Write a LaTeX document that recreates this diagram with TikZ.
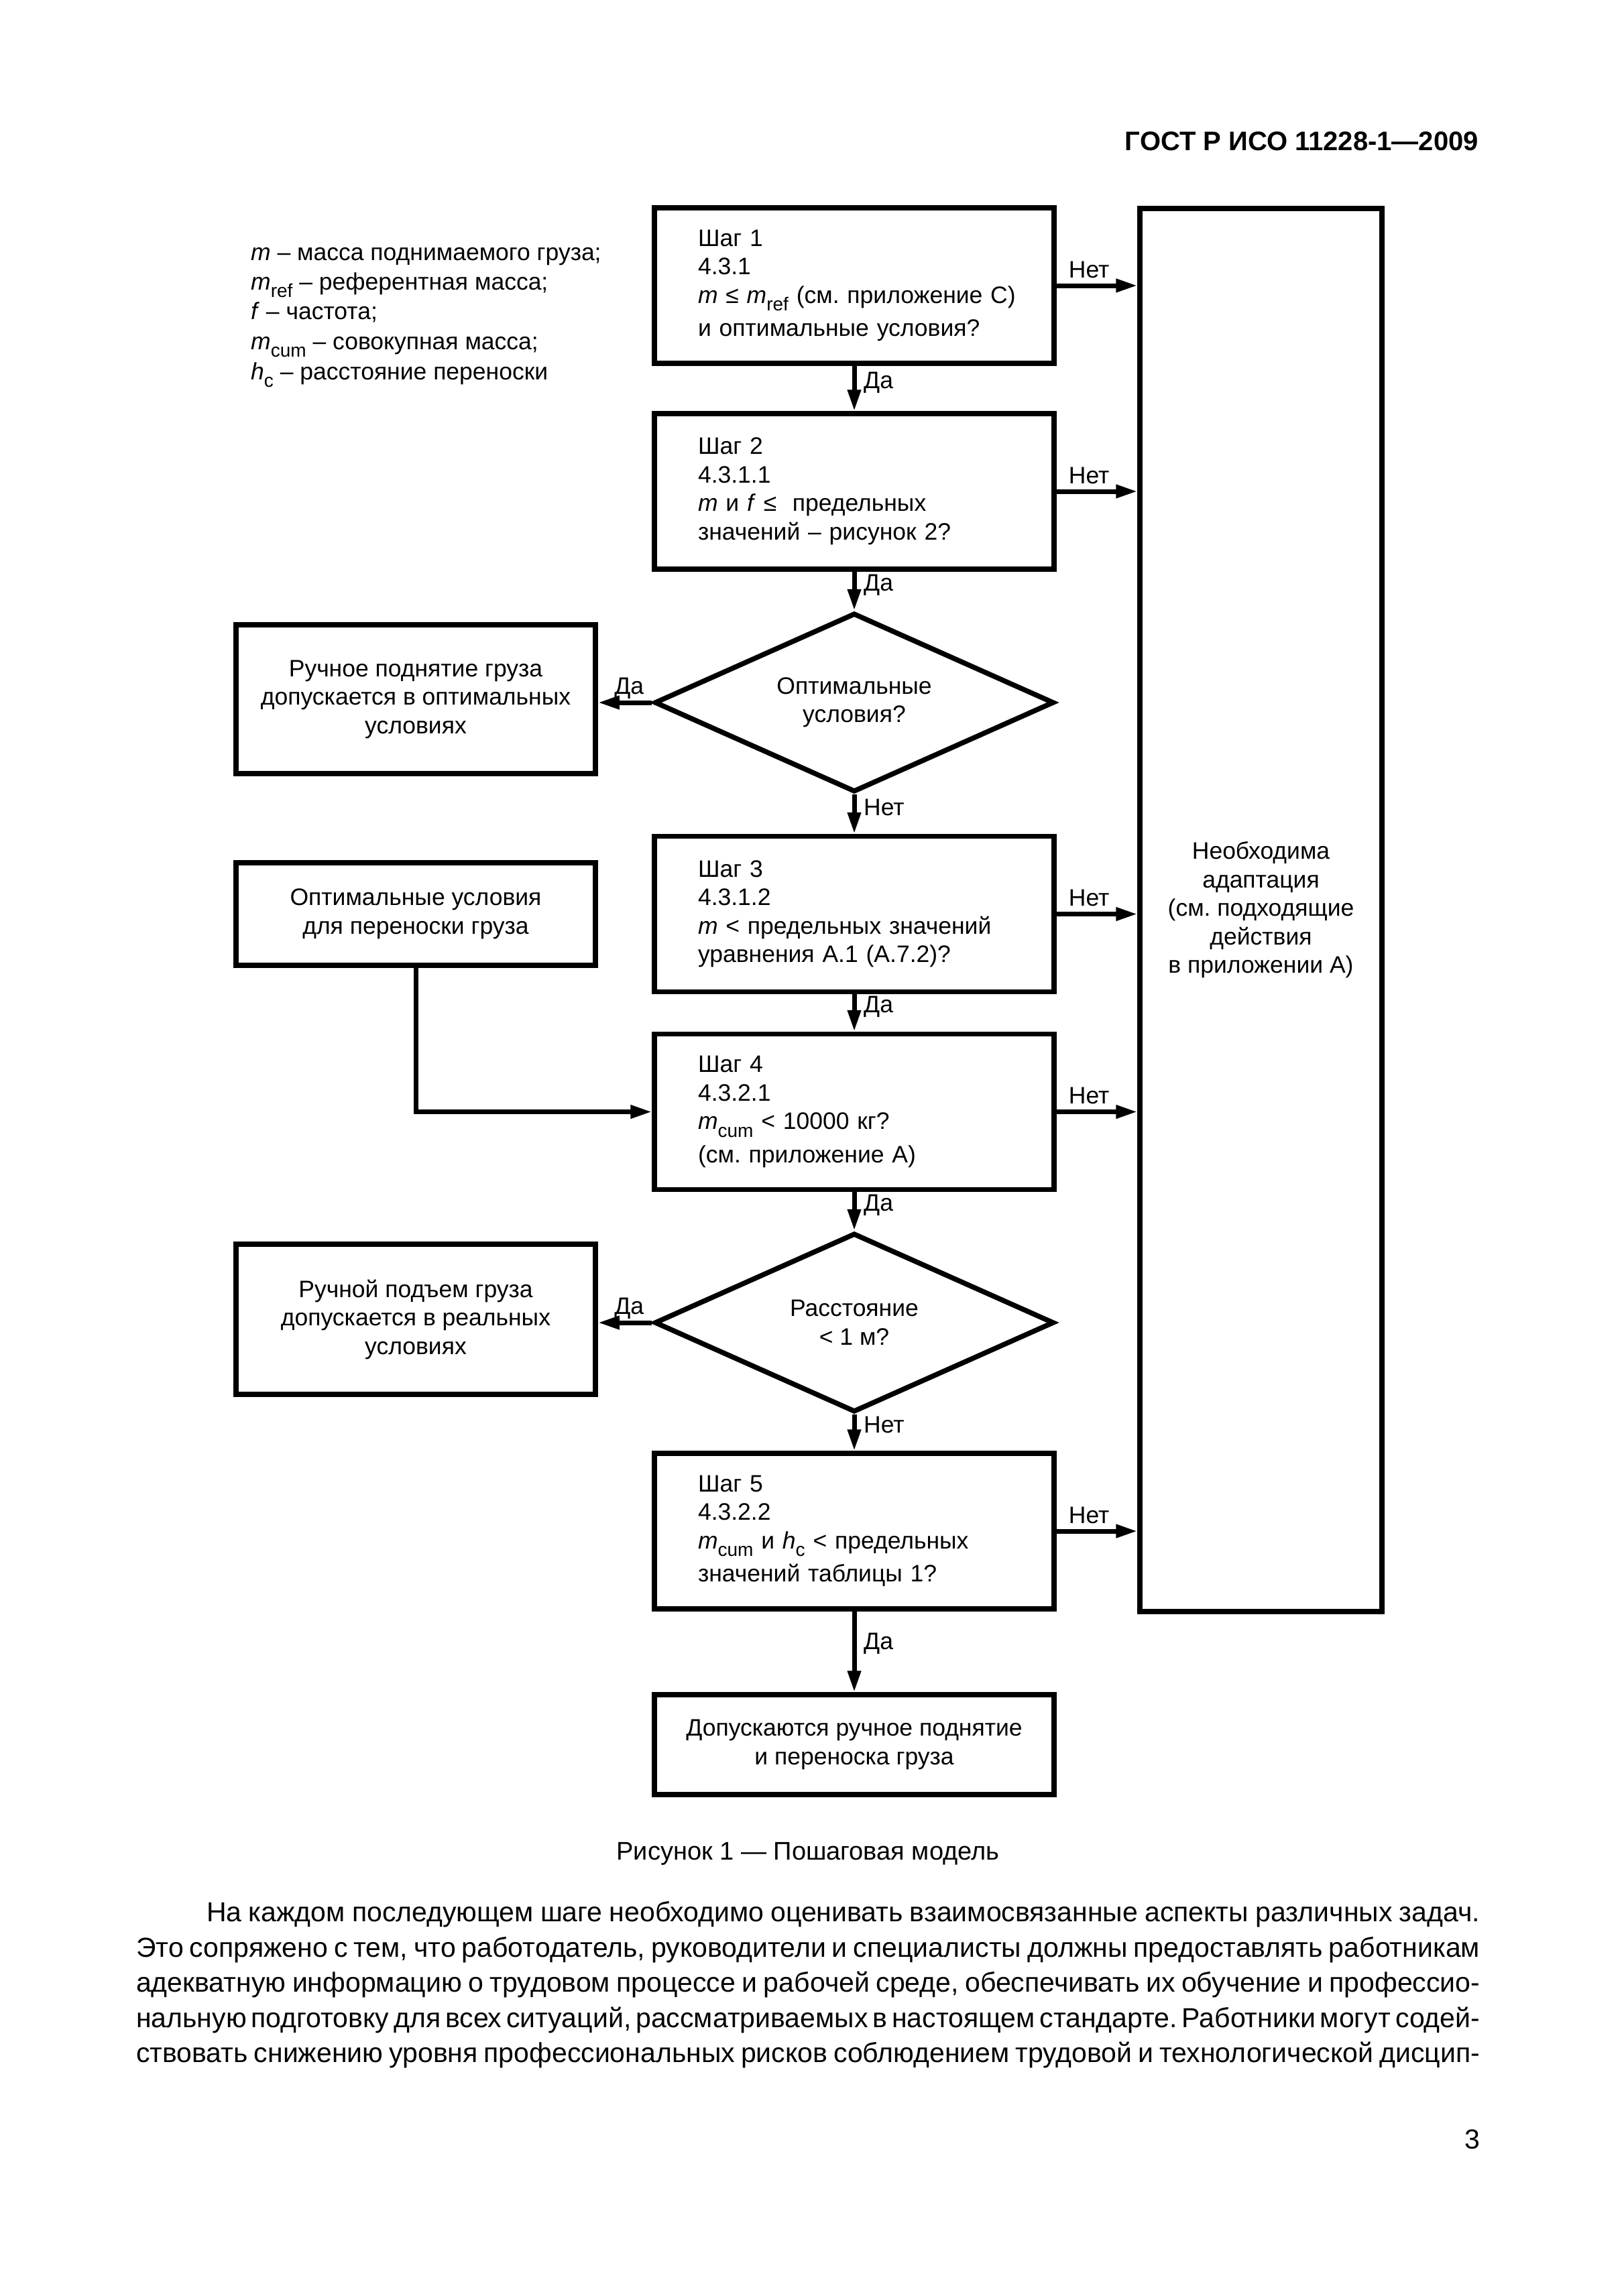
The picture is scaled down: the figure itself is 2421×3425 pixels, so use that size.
\documentclass[tikz,border=0pt]{standalone}
\usepackage{fontspec}
\setmainfont{Liberation Sans}
\usetikzlibrary{arrows.meta,shapes.geometric,calc}
\frenchspacing
\newcommand\dfont{\fontsize{35.5}{42.5}\selectfont\frenchspacing}
\newcommand\bfontx{\fontsize{41}{50}\selectfont\frenchspacing\spaceskip=0.25em plus 0.8em minus 0.12em\relax}
\newcommand\subx[1]{\raisebox{-0.32em}{\fontsize{28}{28}\selectfont #1}}
\newcommand\mline[1]{\mbox{#1}}
\newcommand\jline[2]{\makebox[#1][s]{#2}}
\begin{document}
\begin{tikzpicture}[x=1pt,y=-1pt,
  every node/.style={font=\dfont},
  box/.style={draw, line width=7.5pt, inner sep=0pt, align=center},
  stepbox/.style={draw, line width=7.5pt, inner ysep=0pt, inner xsep=65pt,
    text width=466pt, minimum height=232pt, align=left},
  sidebox/.style={box, minimum width=536pt},
  decision/.style={draw, diamond, line width=7.5pt, inner sep=0pt, aspect=2.232,
    minimum width=596pt, minimum height=267pt, align=center},
  conn/.style={line width=7pt, -{Triangle[length=32pt,width=19pt]}},
  lbl/.style={inner sep=0pt, font=\dfont}]
\fill[white] (0,0) rectangle (2421,3425);
\useasboundingbox (0,0) rectangle (2421,3425);

% header
\node[anchor=base east, inner sep=0pt, font=\fontsize{40}{48}\selectfont\bfseries] (hdr) at (2205,225) {ГОСТ Р ИСО 11228-1—2009};

% legend
\node[anchor=base west, inner sep=0pt] (lg1) at (374,388) {\textit{m} – масса поднимаемого груза;};
\node[anchor=base west, inner sep=0pt] (lg2) at (374,432) {\textit{m}\subx{ref} – референтная масса;};
\node[anchor=base west, inner sep=0pt] (lg3) at (374,476) {\textit{f} – частота;};
\node[anchor=base west, inner sep=0pt] (lg4) at (374,521) {\textit{m}\subx{cum} – совокупная масса;};
\node[anchor=base west, inner sep=0pt] (lg5) at (374,566) {\textit{h}\subx{c} – расстояние переноски};

% main column
\node[stepbox] (b1) at (1274,426) {Шаг 1\\4.3.1\\\mline{\textit{m} ≤ \textit{m}\subx{ref} (см. приложение С)}\\[7pt]\mline{и оптимальные условия?}};
\node[stepbox] (b2) at (1274,733) {Шаг 2\\4.3.1.1\\\mline{\textit{m} и \textit{f} ≤ \ предельных}\\\mline{значений – рисунок 2?}};
\node[decision] (d1) at (1274,1048) {Оптимальные\\условия?};
\node[stepbox] (b3) at (1274,1363.5) {Шаг 3\\4.3.1.2\\\mline{\textit{m} < предельных значений}\\\mline{уравнения А.1 (А.7.2)?}};
\node[stepbox] (b4) at (1274,1658.5) {Шаг 4\\4.3.2.1\\\mline{\textit{m}\subx{cum} < 10000 кг?}\\[7pt]\mline{(см. приложение А)}};
\node[decision] (d2) at (1274,1973) {Расстояние\\< 1 м?};
\node[stepbox] (b5) at (1274,2284) {Шаг 5\\4.3.2.2\\\mline{\textit{m}\subx{cum} и \textit{h}\subx{c} < предельных}\\[7pt]\mline{значений таблицы 1?}};
\node[box, minimum width=596pt, minimum height=149pt] (fin) at (1274,2602.5) {Допускаются ручное поднятие\\и переноска груза};

% side boxes
\node[sidebox, minimum height=222pt] (bA) at (620,1043) {Ручное поднятие груза\\допускается в оптимальных\\условиях};
\node[sidebox, minimum height=153pt] (opt) at (620,1363.5) {Оптимальные условия\\для переноски груза};
\node[sidebox, minimum height=224pt] (bB) at (620,1968) {Ручной подъем груза\\допускается в реальных\\условиях};
\node[box, minimum width=361pt, minimum height=2093pt] (ad) at (1880.5,1357.5) {Необходима\\адаптация\\(см. подходящие\\действия\\в приложении А)};

% vertical connectors
\draw[conn] (b1.south) -- (b2.north);
\draw[conn] (b2.south) -- (d1.north);
\draw[conn] (d1.south) -- (b3.north);
\draw[conn] (b3.south) -- (b4.north);
\draw[conn] (b4.south) -- (d2.north);
\draw[conn] (d2.south) -- (b5.north);
\draw[conn] (b5.south) -- (fin.north);
\node[lbl, anchor=west] at ($(b1.south)!0.5!(b2.north)+(14,-9)$) {Да};
\node[lbl, anchor=west] at ($(b2.south)!0.5!(d1.north)+(14,-9)$) {Да};
\node[lbl, anchor=west] at ($(d1.south)!0.5!(b3.north)+(14,-10)$) {Нет};
\node[lbl, anchor=west] at ($(b3.south)!0.5!(b4.north)+(14,-9)$) {Да};
\node[lbl, anchor=west] at ($(b4.south)!0.5!(d2.north)+(14,-9)$) {Да};
\node[lbl, anchor=west] at ($(d2.south)!0.5!(b5.north)+(14,-12)$) {Нет};
\node[lbl, anchor=west] at ($(b5.south)!0.5!(fin.north)+(14,-12)$) {Да};

% left (yes) connectors
\draw[conn] (d1.west) -- (d1.west -| bA.east);
\node[lbl, anchor=base east] at ($(d1.west)+(-12,-13)$) {Да};
\draw[conn] (d2.west) -- (d2.west -| bB.east);
\node[lbl, anchor=base east] at ($(d2.west)+(-12,-13)$) {Да};

% optimal carrying conditions
\draw[conn] (opt.south) |- (b4.west);

% right (no) connectors
\foreach \b in {b1,b2,b3,b4,b5}{
  \draw[conn] (\b.east) -- (\b.east -| ad.west);
  \node[lbl, anchor=base west] at ($(\b.east)+(18,-12)$) {Нет};
}

% caption
\node[anchor=base, inner sep=0pt, font=\fontsize{38}{46}\selectfont] (cap) at (1205,2774) {Рисунок 1 — Пошаговая модель};

% body text
\node[anchor=base west, inner sep=0pt, font=\bfontx] (p1) at (308,2866) {\jline{1899pt}{На каждом последующем шаге необходимо оценивать взаимосвязанные аспекты различных задач.}};
\node[anchor=base west, inner sep=0pt, font=\bfontx] (p2) at (203,2919) {\jline{2004pt}{Это сопряжено с тем, что работодатель, руководители и специалисты должны предоставлять работникам}};
\node[anchor=base west, inner sep=0pt, font=\bfontx] (p3) at (203,2971) {\jline{2004pt}{адекватную информацию о трудовом процессе и рабочей среде, обеспечивать их обучение и профессио-}};
\node[anchor=base west, inner sep=0pt, font=\bfontx] (p4) at (203,3024) {\jline{2004pt}{нальную подготовку для всех ситуаций, рассматриваемых в настоящем стандарте. Работники могут содей-}};
\node[anchor=base west, inner sep=0pt, font=\bfontx] (p5) at (203,3076) {\jline{2004pt}{ствовать снижению уровня профессиональных рисков соблюдением трудовой и технологической дисцип-}};

% page number
\node[anchor=base east, inner sep=0pt, font=\bfontx] (pg) at (2207,3205) {3};
\end{tikzpicture}
\end{document}
